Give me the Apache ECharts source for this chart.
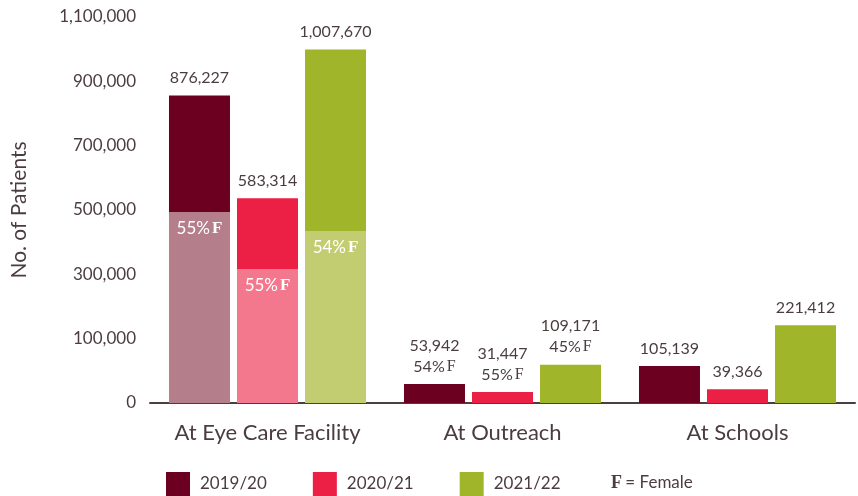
<!DOCTYPE html>
<html>
<head>
<meta charset="utf-8">
<script src="https://cdn.jsdelivr.net/npm/echarts@6/dist/echarts.min.js"></script>
<style>
  html, body { margin: 0; padding: 0; background: #fff; }
  #chart { width: 858px; height: 496px; }
</style>
</head>
<body>
<div id="chart"></div>
<script>
  // data
  var categories = ['At Eye Care Facility', 'At Outreach', 'At Schools'];
  var years = ['2019/20', '2020/21', '2021/22'];
  var totals2019 = [876227, 53942, 105139];
  var totals2020 = [583314, 31447, 39366];
  var totals2021 = [1007670, 109171, 221412];
  // height of the light (female) part as drawn, only split at eye care facility
  var female2019 = [544300, 0, 0];
  var female2020 = [381900, 0, 0];
  var female2021 = [490200, 0, 0];
  var pct2019 = ['55%', '54%', null];
  var pct2020 = ['55%', '55%', null];
  var pct2021 = ['54%', '45%', null];
  // the axis labels are spaced evenly in the original
  var tickLabels = ['0', '100,000', '300,000', '500,000', '700,000', '900,000', '1,100,000'];

  var darkColors = ['#6b0020', '#ec1f45', '#a1b52a'];
  var lightColors = ['#b47e8b', '#f3778d', '#c2cd72'];
  var textColor = '#4b3c3f';

  var totals = [totals2019, totals2020, totals2021];
  var females = [female2019, female2020, female2021];
  var pcts = [pct2019, pct2020, pct2021];

  var fmt = function (v) { return v.toLocaleString('en-US'); };

  var series = [];
  years.forEach(function (y, i) {
    series.push({
      name: y + ' F',
      type: 'bar',
      stack: 's' + i,
      barWidth: 61,
      barGap: '11.5%',
      data: females[i],
      itemStyle: { color: lightColors[i] },
      label: {
        show: true,
        position: 'insideTop',
        distance: 8,
        formatter: function (p) {
          if (!females[i][p.dataIndex]) return '';
          return '{p|' + pcts[i][p.dataIndex] + '}{f|F}';
        },
        rich: {
          p: { color: '#fff', fontSize: 17, fontFamily: 'Lato' },
          f: { color: '#fff', fontSize: 17, fontFamily: 'Liberation Serif', fontWeight: 'bold', padding: [0, 0, 0, 2] }
        }
      }
    });
    series.push({
      name: y,
      type: 'bar',
      stack: 's' + i,
      barWidth: 61,
      barGap: '11.5%',
      data: totals[i].map(function (t, k) { return t - females[i][k]; }),
      itemStyle: { color: darkColors[i] },
      label: {
        show: true,
        position: 'top',
        distance: 7,
        formatter: function (p) {
          var k = p.dataIndex;
          var s = '{v|' + fmt(totals[i][k]) + '}';
          if (pcts[i][k] && !females[i][k]) s += '\n{p|' + pcts[i][k] + '}{f|F}';
          return s;
        },
        rich: {
          v: { color: textColor, fontSize: 16, fontFamily: 'Lato', lineHeight: 21 },
          p: { color: textColor, fontSize: 16, fontFamily: 'Lato', lineHeight: 21 },
          f: { color: textColor, fontSize: 16, fontFamily: 'Liberation Serif', lineHeight: 21, padding: [0, 0, 0, 2] }
        }
      }
    });
  });

  var chart = echarts.init(document.getElementById('chart'));
  chart.setOption({
    animation: false,
    grid: { left: 150, right: 3, top: 17, bottom: 93 },
    legend: {
      data: years,
      top: 472,
      left: 166,
      padding: 0,
      icon: 'rect',
      itemWidth: 24,
      itemHeight: 24,
      itemGap: 46,
      textStyle: { color: textColor, fontSize: 17, fontFamily: 'Lato', padding: [0, 0, 0, 5] }
    },
    graphic: [{
      type: 'text',
      left: 611,
      top: 474,
      style: {
        text: '{f|F} {t|= Female}',
        rich: {
          f: { fontSize: 18, fontFamily: 'Liberation Serif', fontWeight: 'bold', fill: textColor },
          t: { fontSize: 17, fontFamily: 'Lato', fill: textColor }
        }
      }
    }],
    xAxis: {
      type: 'category',
      data: categories,
      axisLine: { lineStyle: { color: '#4a3f40', width: 2 } },
      axisTick: { show: false },
      axisLabel: { color: textColor, fontSize: 22, fontFamily: 'Lato', margin: 19, interval: 0 }
    },
    yAxis: {
      type: 'value',
      min: 0,
      max: 1100000,
      interval: 1100000 / 6,
      name: 'No. of Patients',
      nameLocation: 'middle',
      nameGap: 120,
      nameTextStyle: { color: textColor, fontSize: 21, fontFamily: 'Lato' },
      axisLine: { show: false },
      axisTick: { show: false },
      splitLine: { show: false },
      axisLabel: {
        color: textColor,
        fontSize: 17,
        fontFamily: 'Lato',
        margin: 14,
        formatter: function (v, idx) { return tickLabels[idx]; }
      }
    },
    series: series
  });
</script>
</body>
</html>
